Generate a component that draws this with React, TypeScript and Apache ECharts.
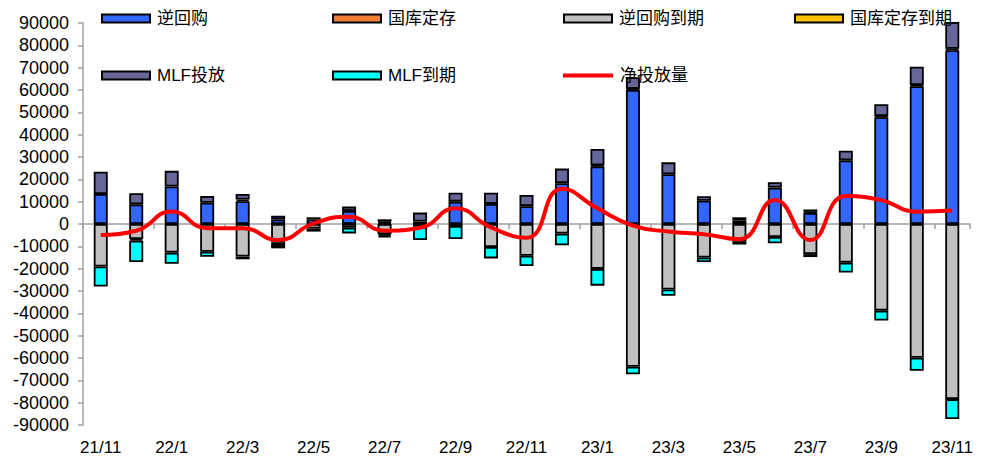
import React, { useEffect, useRef } from "react";
import * as echarts from "echarts";

const categories = ["21/11","21/12","22/1","22/2","22/3","22/4","22/5","22/6","22/7","22/8","22/9","22/10","22/11","22/12","23/1","23/2","23/3","23/4","23/5","23/6","23/7","23/8","23/9","23/10","23/11"];

const reverseRepo = [13400, 8800, 16800, 9500, 10200, 2000, 2000, 5800, 600, 1100, 10000, 9000, 8000, 18300, 25800, 60000, 22300, 10400, 1500, 16300, 5000, 28500, 47800, 61700, 77800];
const treasuryDeposit = [0, 0, 0, 0, 800, 0, 0, 0, 500, 0, 0, 0, 0, 0, 500, 500, 0, 0, 0, 0, 500, 0, 500, 500, 700];
const mlfInjection = [10000, 5000, 7000, 3000, 2400, 1700, 1000, 2000, 1000, 4000, 4000, 5000, 5000, 6500, 7300, 5200, 5300, 2000, 1500, 2400, 1000, 4300, 5300, 8200, 14500];
const reverseRepoMaturity = [-19000, -6700, -12800, -12400, -14600, -8400, -2000, -1700, -4500, -1200, -900, -10300, -14200, -4300, -20100, -63900, -29300, -15000, -7900, -5800, -13500, -17300, -38800, -59900, -78400];
const treasuryMaturity = [0, -800, 0, 0, 0, -1000, 0, 0, -700, 0, 0, 0, 0, 0, 0, 0, 0, 0, 0, 0, 0, 0, 0, 0, 0];
const mlfMaturity = [-9000, -9500, -5000, -2300, -1200, -1500, -1400, -2500, -800, -6000, -5800, -5100, -4600, -5200, -7500, -3400, -2800, -2000, -1300, -2800, -1300, -4400, -4400, -5800, -8900];
const netInjection = [-4900, -3000, 5600, -1900, -1900, -7200, 300, 3200, -3000, -1700, 7000, -1500, -6200, 15800, 7000, -700, -3400, -4600, -6800, 10700, -7200, 12500, 10700, 5500, 6000];

const yTicks = { min: -90000, max: 90000, interval: 10000 };

const FONT = "'Liberation Sans', 'Noto Sans CJK SC', sans-serif";

const nz = (arr: number[]) => arr.map((v) => (v === 0 ? "-" : v));

export default function App() {
  const ref = useRef<HTMLDivElement>(null);
  useEffect(() => {
    if (!ref.current) return;
    const chart = echarts.init(ref.current, undefined, { renderer: "svg" });
    const barBase = {
      type: "bar",
      stack: "total",
      barWidth: 14,
      xAxisIndex: 0,
      yAxisIndex: 0,
    };
    const bars = [
      { name: "逆回购", data: reverseRepo, color: "#3366FF" },
      { name: "国库定存", data: treasuryDeposit, color: "#ED7D31" },
      { name: "MLF投放", data: mlfInjection, color: "#666699" },
      { name: "逆回购到期", data: reverseRepoMaturity, color: "#C0C0C0" },
      { name: "国库定存到期", data: treasuryMaturity, color: "#FFC000" },
      { name: "MLF到期", data: mlfMaturity, color: "#00FFFF" },
    ];
    const legendPos: Record<string, [number, number]> = {
      "逆回购": [101, 10],
      "国库定存": [332, 10],
      "逆回购到期": [563, 10],
      "国库定存到期": [794, 10],
      "MLF投放": [101, 67],
      "MLF到期": [332, 67],
      "净投放量": [563, 67],
    };
    const legends = Object.keys(legendPos).map((name) => {
      const isLine = name === "净投放量";
      return {
        data: [name],
        left: legendPos[name][0],
        top: legendPos[name][1],
        itemWidth: isLine ? 50 : 48,
        itemHeight: isLine ? 4 : 8,
        itemGap: 5,
        padding: 0,
        selectedMode: false,
        icon: "rect",
        itemStyle: isLine
          ? { color: "#FF0000", borderWidth: 0 }
          : { borderColor: "#000", borderWidth: 2 },
        textStyle: { fontFamily: FONT, fontSize: 17, color: "#000", padding: [0, 0, 0, 2] },
      };
    });
    chart.setOption({
      animation: false,
      grid: { left: 83, right: 30, top: 23, bottom: 34, containLabel: false },
      legend: legends,
      xAxis: [
        {
          type: "category",
          data: categories,
          position: "bottom",
          axisLine: { onZero: true, lineStyle: { color: "#A0A0A0", width: 1.5 } },
          axisTick: { show: true, interval: 1, length: 5, lineStyle: { color: "#A0A0A0", width: 1.5 } },
          axisLabel: { show: false },
          splitLine: { show: false },
        },
        {
          type: "category",
          data: categories,
          position: "bottom",
          axisLine: { show: false, onZero: false },
          axisTick: { show: false },
          axisLabel: { show: true, interval: 1, margin: 14, fontFamily: FONT, fontSize: 17, color: "#000" },
          splitLine: { show: false },
        },
      ],
      yAxis: {
        type: "value",
        min: yTicks.min,
        max: yTicks.max,
        interval: yTicks.interval,
        axisLine: { show: true, lineStyle: { color: "#A0A0A0", width: 1.5 } },
        axisTick: { show: true, length: 5, lineStyle: { color: "#A0A0A0", width: 1.5 } },
        axisLabel: {
          margin: 14,
          fontFamily: FONT,
          fontSize: 18,
          color: "#000",
          formatter: (v: number) => String(v),
        },
        splitLine: { show: false },
      },
      series: [
        ...bars.map((b) => ({
          ...barBase,
          name: b.name,
          data: nz(b.data),
          itemStyle: { color: b.color, borderColor: "#000", borderWidth: 1.8 },
        })),
        {
          type: "line",
          name: "净投放量",
          data: netInjection,
          smooth: 0.5,
          symbol: "none",
          z: 5,
          lineStyle: { color: "#FF0000", width: 4 },
          itemStyle: { color: "#FF0000" },
        },
      ],
    });
    return () => chart.dispose();
  }, []);
  return <div ref={ref} style={{ width: 1000, height: 459, position: "absolute", left: 0, top: 0 }} />;
}
